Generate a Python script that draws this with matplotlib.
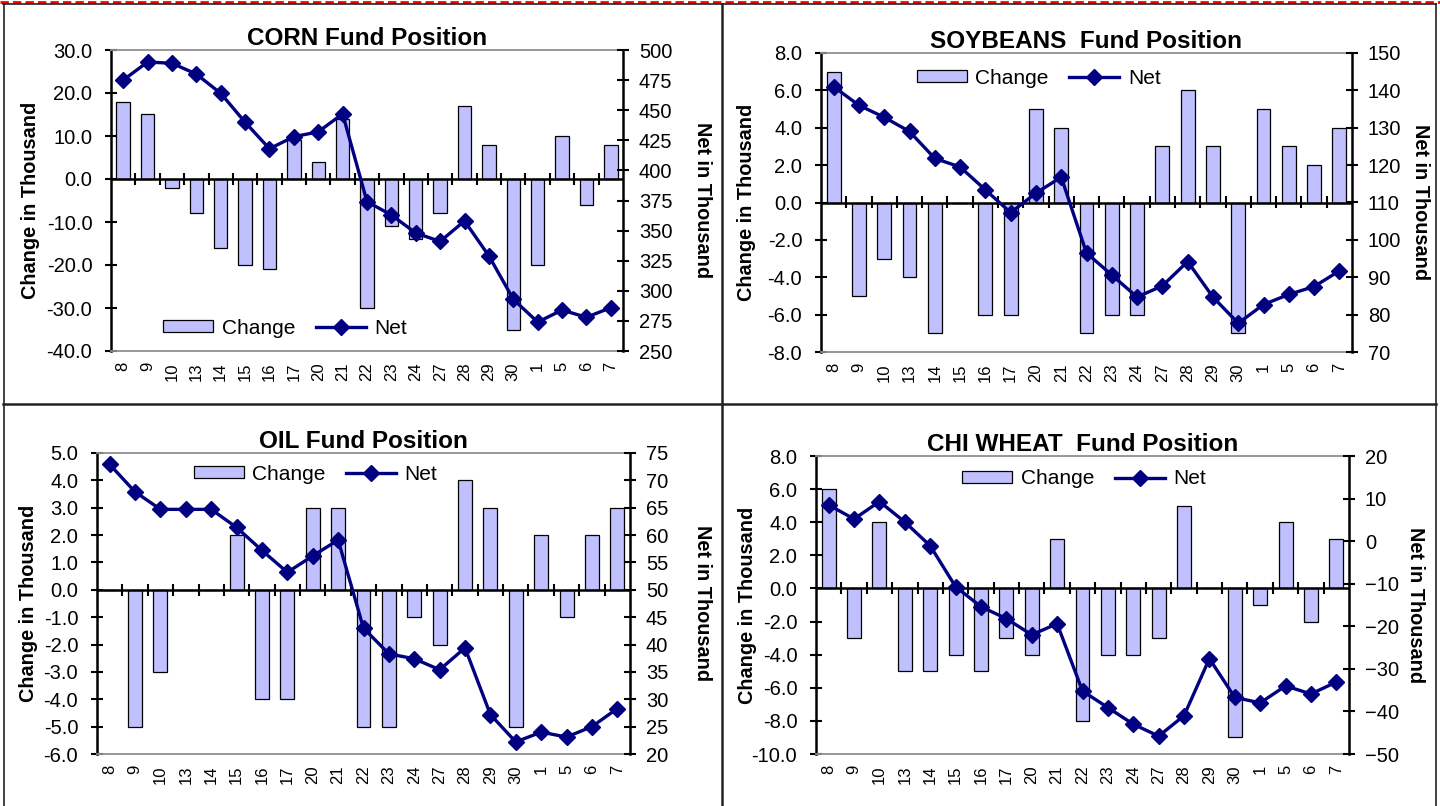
import numpy as np
import matplotlib
matplotlib.use("Agg")
import matplotlib.pyplot as plt
from matplotlib.lines import Line2D
from matplotlib.ticker import FixedLocator, FormatStrFormatter

plt.rcParams['font.family'] = ['Liberation Sans', 'DejaVu Sans']

# ---------------- data ----------------
dates = ["8", "9", "10", "13", "14", "15", "16", "17", "20", "21", "22",
         "23", "24", "27", "28", "29", "30", "1", "5", "6", "7"]

corn_change = [18, 15, -2, -8, -16, -20, -21, 9, 4, 14, -30,
               -11, -14, -8, 17, 8, -35, -20, 10, -6, 8]
corn_net = [475, 490, 489, 480, 464, 440, 418, 428, 432, 447, 374,
            363, 348, 341, 358, 329, 293, 274, 284, 278, 286]

soy_change = [7, -5, -3, -4, -7, 0, -6, -6, 5, 4, -7,
              -6, -6, 3, 6, 3, -7, 5, 3, 2, 4]
soy_net = [141, 136, 132.8, 129, 121.8, 119.5, 113.4, 107.3, 112.5, 116.8, 96.5,
           90.6, 84.7, 87.7, 94.2, 84.7, 77.7, 82.7, 85.4, 87.5, 91.7]

oil_change = [0, -5, -3, 0, 0, 2, -4, -4, 3, 3, -5,
              -5, -1, -2, 4, 3, -5, 2, -1, 2, 3]
oil_net = [72.9, 67.9, 64.7, 64.7, 64.7, 61.4, 57.2, 53.2, 56.2, 59.1, 43.0,
           38.3, 37.4, 35.4, 39.4, 27.2, 22.2, 24.0, 23.1, 25.0, 28.3]

wheat_change = [6, -3, 4, -5, -5, -4, -5, -3, -4, 3, -8,
                -4, -4, -3, 5, 0, -9, -1, 4, -2, 3]
wheat_net = [8.5, 5.2, 9.3, 4.5, -1.1, -10.7, -15.4, -18.2, -22.0, -19.4, -35.2,
             -39.1, -43.0, -45.8, -41.0, -27.6, -36.7, -38.0, -34.0, -35.9, -33.1]

titles = ["CORN Fund Position", "SOYBEANS  Fund Position",
          "OIL Fund Position", "CHI WHEAT  Fund Position"]

# ---------------- style ----------------
BAR_COLOR = "#C0C0FF"
LINE_COLOR = "#000080"
W, H = 1440, 806
TICK_FS = 14.5
XTICK_FS = 12

fig = plt.figure(figsize=(W / 100, H / 100), dpi=100)


def rect(l, t, r, b):
    return [l / W, 1 - b / H, (r - l) / W, (b - t) / H]


def panel(pos, title, change, net, lmin, lmax, lstep, rmin, rmax, rstep,
          leg_xy, ylab_x, rlab_x):
    ax = fig.add_axes(pos)
    x = np.arange(len(dates))
    ax.bar(x, change, width=0.55, color=BAR_COLOR, edgecolor="black",
           linewidth=0.9, zorder=2, label="Change")
    ax.axhline(0, color="black", linewidth=1.8, zorder=2.5)
    ax.set_xlim(-0.5, len(dates) - 0.5)
    ax.set_ylim(lmin, lmax)
    ax.yaxis.set_major_locator(FixedLocator(np.arange(lmin, lmax + lstep / 2, lstep)))
    ax.yaxis.set_major_formatter(FormatStrFormatter("%.1f"))
    ax.set_xticks(x)
    ax.set_xticklabels(dates, rotation=90, fontsize=XTICK_FS)
    ax.tick_params(axis="x", length=0, pad=8)
    ax.tick_params(axis="y", direction="inout", length=9, width=1.5,
                   labelsize=TICK_FS, pad=9)
    for s in ("top", "bottom"):
        ax.spines[s].set_color("#909090")
        ax.spines[s].set_linewidth(1.3)
    ax.spines["left"].set_linewidth(1.8)
    ax.spines["right"].set_visible(False)
    ax.set_ylabel("Change in Thousand", fontsize=14.3, fontweight="bold")
    ax.yaxis.set_label_coords(ylab_x, 0.5)
    ax.set_title(title, fontsize=17.5, fontweight="bold", pad=3)

    # category axis crossing at zero: tick marks between categories
    frac = (0 - lmin) / (lmax - lmin)
    sec = ax.secondary_xaxis(frac)
    sec.set_xticks(np.arange(len(dates) - 1) + 0.5)
    sec.set_xticklabels([])
    sec.tick_params(direction="inout", length=9, width=1.5, color="black")
    for s in sec.spines.values():
        s.set_visible(False)

    ax2 = ax.twinx()
    ax2.plot(x, net, color=LINE_COLOR, linewidth=2.4, marker="D",
             markersize=8.5, zorder=3, label="Net")
    ax2.set_ylim(rmin, rmax)
    ax2.yaxis.set_major_locator(FixedLocator(np.arange(rmin, rmax + rstep / 2, rstep)))
    ax2.tick_params(axis="y", direction="inout", length=9, width=1.5,
                    labelsize=TICK_FS, pad=7)
    for s in ("top", "bottom", "left"):
        ax2.spines[s].set_visible(False)
    ax2.spines["right"].set_linewidth(1.8)
    ax2.set_ylabel("Net in Thousand", fontsize=14.3, fontweight="bold",
                   rotation=270)
    ax2.yaxis.set_label_coords(rlab_x, 0.5)

    h1, l1 = ax.get_legend_handles_labels()
    h2, l2 = ax2.get_legend_handles_labels()
    ax2.legend(h1 + h2, l1 + l2, ncol=2, loc="center",
               bbox_to_anchor=leg_xy, frameon=False, fontsize=15,
               handlelength=2.4, handleheight=0.5, columnspacing=1.0,
               handletextpad=0.4, borderaxespad=0)
    return ax, ax2


panel(rect(111, 50, 623, 351), titles[0], corn_change, corn_net,
      -40, 30, 10, 250, 500, 25, (0.34, 0.076), -0.139, 1.174)
panel(rect(821, 53, 1352, 352), titles[1], soy_change, soy_net,
      -8, 8, 2, 70, 150, 10, (0.41, 0.916), -0.122, 1.147)
panel(rect(97, 453, 630, 754), titles[2], oil_change, oil_net,
      -6, 5, 1, 20, 75, 5, (0.41, 0.93), -0.111, 1.154)
panel(rect(816, 456, 1349, 754), titles[3], wheat_change, wheat_net,
      -10, 8, 2, -50, 20, 10, (0.503, 0.923), -0.111, 1.143)

# ---------------- frame decorations ----------------
def fline(x0, y0, x1, y1, **kw):
    fig.add_artist(Line2D([x0 / W, x1 / W], [1 - y0 / H, 1 - y1 / H], **kw))

fline(0, 1.5, W, 1.5, color="red", linewidth=2, linestyle=(0, (3, 1.5)))
fline(3, 4, 1436, 4, color="#222222", linewidth=1.2)
fline(3.5, 4, 3.5, H, color="#222222", linewidth=1.2)
fline(1435.5, 4, 1435.5, H, color="#222222", linewidth=1.2)
fline(721.5, 4, 721.5, H, color="#222222", linewidth=1.8)
fline(3, 404, 1436, 404, color="#222222", linewidth=1.8)

fig.savefig("out.png", dpi=100)
